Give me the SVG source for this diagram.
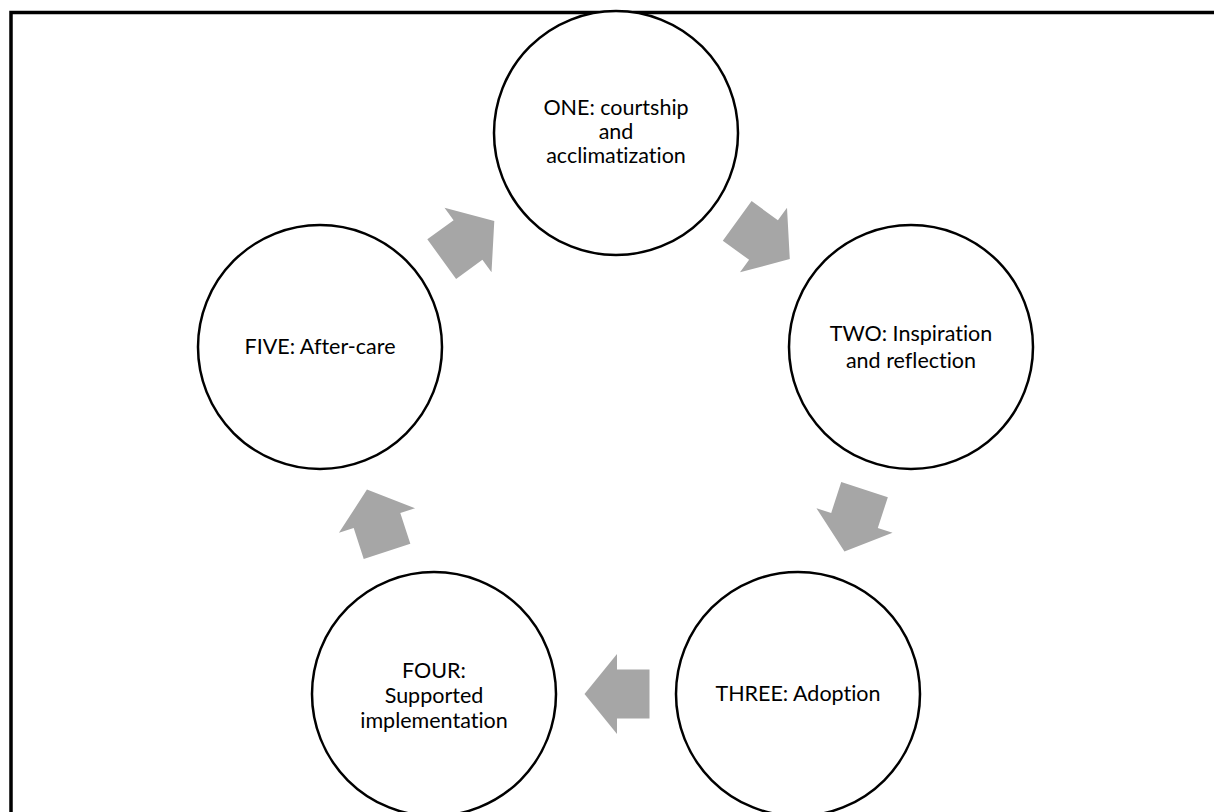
<svg xmlns="http://www.w3.org/2000/svg" width="1214" height="812" viewBox="0 0 1214 812">
  <defs>
    <style>
      .node { fill: #ffffff; stroke: #000000; stroke-width: 2.5; }
      .lbl { font-family: Lato, "Liberation Sans", sans-serif; font-size: 21.5px; fill: #000000; text-anchor: middle; font-variant-ligatures: none; }
      .arrow { fill: #A6A6A6; stroke: none; }
    </style>
    <polygon id="blockArrow" points="-32.5,-24.5 0,-24.5 0,-40 32.5,0 0,40 0,24.5 -32.5,24.5"/>
  </defs>
  <rect x="0" y="0" width="1214" height="812" fill="#ffffff"/>
  <rect x="11" y="12.5" width="1220" height="820" fill="none" stroke="#000000" stroke-width="3.5"/>

  <g id="connectors">
    <use href="#blockArrow" class="arrow" transform="translate(763.5,240) rotate(36)"/>
    <use href="#blockArrow" class="arrow" transform="translate(854.5,520.5) rotate(108)"/>
    <use href="#blockArrow" class="arrow" transform="translate(617,694) rotate(180)"/>
    <use href="#blockArrow" class="arrow" transform="translate(377,520.5) rotate(252)"/>
    <use href="#blockArrow" class="arrow" transform="translate(468,240) rotate(-36)"/>
  </g>

  <g id="node-one">
    <circle class="node" cx="616" cy="133" r="122"/>
    <text class="lbl" x="616" y="115">ONE: courtship</text>
    <text class="lbl" x="616" y="139">and</text>
    <text class="lbl" x="616" y="163">acclimatization</text>
  </g>
  <g id="node-two">
    <circle class="node" cx="911" cy="347" r="122"/>
    <text class="lbl" x="911" y="341">TWO: Inspiration</text>
    <text class="lbl" x="911" y="368">and reflection</text>
  </g>
  <g id="node-three">
    <circle class="node" cx="798" cy="694" r="122"/>
    <text class="lbl" x="798" y="701">THREE: Adoption</text>
  </g>
  <g id="node-four">
    <circle class="node" cx="434" cy="694" r="122"/>
    <text class="lbl" x="434" y="678">FOUR:</text>
    <text class="lbl" x="434" y="703">Supported</text>
    <text class="lbl" x="434" y="728">implementation</text>
  </g>
  <g id="node-five">
    <circle class="node" cx="320" cy="347" r="122"/>
    <text class="lbl" x="320" y="354">FIVE: After-care</text>
  </g>
</svg>
